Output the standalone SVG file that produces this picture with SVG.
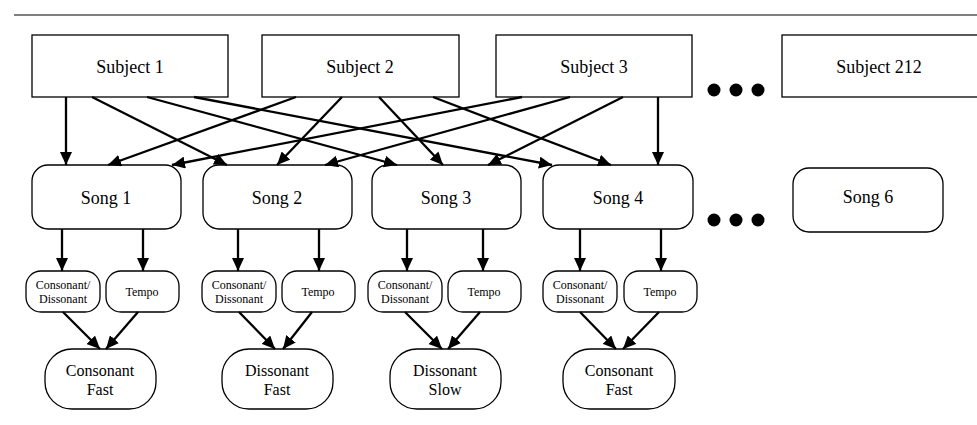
<svg xmlns="http://www.w3.org/2000/svg" width="977" height="425" viewBox="0 0 977 425">
<style>
.box{fill:#fff;stroke:#000;stroke-width:1.3}
.t{font-family:"Liberation Serif","Times New Roman",serif;fill:#000;text-anchor:middle}
.big{font-size:18px}
.mid{font-size:16px}
.sm{font-size:12px}
.c line{stroke:#000;stroke-width:2.3;marker-end:url(#ah)}
</style>
<defs>
<marker id="ah" markerUnits="userSpaceOnUse" markerWidth="14" markerHeight="12" refX="13" refY="6" orient="auto">
<path d="M0,0 L13,6 L0,12 z" fill="#000"/>
</marker>
</defs>
<rect width="977" height="425" fill="#fff"/>
<line x1="14" y1="15" x2="977" y2="15" stroke="#555" stroke-width="1.5"/>
<g id="subject1"><rect class="box" x="32" y="35" width="196" height="62"/><text class="t big" x="130" y="73">Subject 1</text></g>
<g id="subject2"><rect class="box" x="262" y="35" width="197" height="62"/><text class="t big" x="360" y="73">Subject 2</text></g>
<g id="subject3"><rect class="box" x="496" y="35" width="196" height="62"/><text class="t big" x="594" y="73">Subject 3</text></g>
<g id="subject212"><rect class="box" x="782" y="35" width="200" height="62"/><text class="t big" x="879" y="73">Subject 212</text></g>
<g id="dots1" fill="#000"><circle cx="714" cy="90" r="6.5"/><circle cx="736" cy="90" r="6.5"/><circle cx="758" cy="90" r="6.5"/></g>
<g id="song1"><rect class="box" x="32" y="165" width="149" height="64" rx="16"/><text class="t big" x="106" y="204">Song 1</text></g>
<g id="song2"><rect class="box" x="203" y="165" width="149" height="64" rx="16"/><text class="t big" x="277" y="204">Song 2</text></g>
<g id="song3"><rect class="box" x="372" y="165" width="149" height="64" rx="16"/><text class="t big" x="446" y="204">Song 3</text></g>
<g id="song4"><rect class="box" x="543" y="165" width="150" height="64" rx="16"/><text class="t big" x="618" y="204">Song 4</text></g>
<g id="song6"><rect class="box" x="793" y="168" width="150" height="64" rx="16"/><text class="t big" x="868" y="203">Song 6</text></g>
<g id="dots2" fill="#000"><circle cx="714" cy="220" r="6.5"/><circle cx="736" cy="220" r="6.5"/><circle cx="758" cy="220" r="6.5"/></g>
<g id="cd1"><rect class="box" x="26" y="271" width="74" height="41" rx="15"/><text class="t sm" x="63" y="289">Consonant/</text><text class="t sm" x="63" y="303">Dissonant</text></g>
<g id="tempo1"><rect class="box" x="106" y="271" width="73" height="41" rx="15"/><text class="t sm" x="142" y="296">Tempo</text></g>
<g id="cd2"><rect class="box" x="202" y="271" width="74" height="41" rx="15"/><text class="t sm" x="239" y="289">Consonant/</text><text class="t sm" x="239" y="303">Dissonant</text></g>
<g id="tempo2"><rect class="box" x="282" y="271" width="73" height="41" rx="15"/><text class="t sm" x="318" y="296">Tempo</text></g>
<g id="cd3"><rect class="box" x="368" y="271" width="74" height="41" rx="15"/><text class="t sm" x="405" y="289">Consonant/</text><text class="t sm" x="405" y="303">Dissonant</text></g>
<g id="tempo3"><rect class="box" x="448" y="271" width="73" height="41" rx="15"/><text class="t sm" x="484" y="296">Tempo</text></g>
<g id="cd4"><rect class="box" x="543" y="271" width="74" height="41" rx="15"/><text class="t sm" x="580" y="289">Consonant/</text><text class="t sm" x="580" y="303">Dissonant</text></g>
<g id="tempo4"><rect class="box" x="624" y="271" width="73" height="41" rx="15"/><text class="t sm" x="660" y="296">Tempo</text></g>
<g id="result1"><rect class="box" x="45" y="349" width="111" height="60" rx="27"/><text class="t mid" x="100" y="376">Consonant</text><text class="t mid" x="100" y="395">Fast</text></g>
<g id="result2"><rect class="box" x="222" y="349" width="111" height="60" rx="27"/><text class="t mid" x="277" y="376">Dissonant</text><text class="t mid" x="277" y="395">Fast</text></g>
<g id="result3"><rect class="box" x="390" y="349" width="111" height="60" rx="27"/><text class="t mid" x="445" y="376">Dissonant</text><text class="t mid" x="445" y="395">Slow</text></g>
<g id="result4"><rect class="box" x="563" y="349" width="112" height="60" rx="27"/><text class="t mid" x="619" y="376">Consonant</text><text class="t mid" x="619" y="395">Fast</text></g>
<g id="connectors" class="c">
<line x1="66" y1="97" x2="66" y2="165"/>
<line x1="92" y1="97" x2="227" y2="165"/>
<line x1="147" y1="97" x2="397" y2="165"/>
<line x1="194" y1="97" x2="552" y2="165"/>
<line x1="296" y1="97" x2="108" y2="165"/>
<line x1="342" y1="97" x2="277" y2="165"/>
<line x1="379" y1="97" x2="443" y2="165"/>
<line x1="433" y1="97" x2="611" y2="165"/>
<line x1="522" y1="97" x2="172" y2="165"/>
<line x1="570" y1="97" x2="325" y2="165"/>
<line x1="623" y1="97" x2="488" y2="165"/>
<line x1="658" y1="97" x2="658" y2="165"/>
<line x1="62" y1="229" x2="62" y2="271"/>
<line x1="143" y1="229" x2="143" y2="271"/>
<line x1="238" y1="229" x2="238" y2="271"/>
<line x1="319" y1="229" x2="319" y2="271"/>
<line x1="407" y1="229" x2="407" y2="271"/>
<line x1="483" y1="229" x2="483" y2="271"/>
<line x1="580" y1="229" x2="580" y2="271"/>
<line x1="661" y1="229" x2="661" y2="271"/>
<line x1="63" y1="312" x2="100" y2="349"/>
<line x1="138" y1="312" x2="106" y2="349"/>
<line x1="239" y1="312" x2="275" y2="349"/>
<line x1="312" y1="312" x2="283" y2="349"/>
<line x1="405" y1="312" x2="442" y2="349"/>
<line x1="480" y1="312" x2="448" y2="349"/>
<line x1="580" y1="312" x2="616" y2="349"/>
<line x1="659" y1="312" x2="623" y2="349"/>
</g>
</svg>
